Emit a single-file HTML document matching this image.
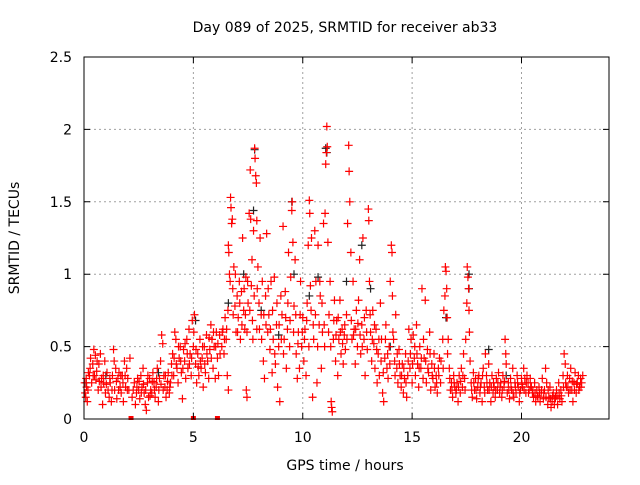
<!DOCTYPE html>
<html><head><meta charset="utf-8"><style>
body{margin:0;background:#fff;}
svg text{font-family:"DejaVu Sans","Liberation Sans",sans-serif;font-size:14px;fill:#000;}
</style></head><body>
<svg id="chart" width="640" height="480" viewBox="0 0 640 480" xmlns="http://www.w3.org/2000/svg">
<rect width="640" height="480" fill="#fff"/>
<g id="grid"></g>
<g id="marks"></g>
<g id="axes"></g>
<text x="345" y="32" text-anchor="middle">Day 089 of 2025, SRMTID for receiver ab33</text>
<text x="345" y="470" text-anchor="middle">GPS time / hours</text>
<text x="19" y="238" text-anchor="middle" transform="rotate(-90 19 238)">SRMTID / TECUs</text>
</svg>
<script>
const xTicks=[0,5,10,15,20];
const yTicks=[0,0.5,1,1.5,2,2.5];
const yTickLabels=["0","0.5","1","1.5","2","2.5"];
const blackPoints=[[0.1,0.25],[1.0,0.3],[3.4,0.32],[5.1,0.68],[6.6,0.8],[7.3,1.0],[7.75,1.44],[7.8,1.86],[9.5,1.5],[9.6,1.0],[10.3,0.85],[10.7,0.98],[11.05,1.87],[11.1,1.84],[12.0,0.95],[12.7,1.2],[13.1,0.9],[14.0,0.5],[16.55,0.7],[17.6,1.0],[17.6,0.9],[18.5,0.48],[19.3,0.3],[8.1,0.75],[8.9,0.58]];
const redPoints=[
[0.05,0.18],[0.08,0.15],[0.1,0.28],[0.12,0.22],[0.15,0.12],[0.2,0.32],[0.25,0.3],[0.3,0.42],[0.35,0.25],[0.4,0.38],[0.45,0.48],[0.48,0.3],
[0.52,0.44],[0.55,0.27],[0.6,0.4],[0.65,0.2],[0.7,0.26],[0.75,0.45],[0.8,0.28],[0.85,0.1],[0.9,0.25],[0.95,0.4],[0.98,0.18],
[1.05,0.32],[1.1,0.2],[1.15,0.15],[1.2,0.25],[1.25,0.12],[1.3,0.3],[1.35,0.48],[1.4,0.2],[1.45,0.35],[1.5,0.14],
[1.55,0.28],[1.6,0.32],[1.65,0.22],[1.7,0.18],[1.75,0.3],[1.8,0.12],[1.85,0.4],[1.9,0.22],[1.95,0.35],[2.0,0.28],
[2.05,0.2],[2.1,0.42],[2.2,0.15],[2.3,0.25],[2.35,0.1],[2.4,0.18],[2.45,0.28],[2.5,0.2],
[2.55,0.14],[2.6,0.3],[2.65,0.22],[2.7,0.35],[2.75,0.18],[2.8,0.1],[2.85,0.06],[2.9,0.25],[2.95,0.15],[3.0,0.28],
[3.05,0.2],[3.1,0.18],[3.15,0.32],[3.2,0.25],[3.25,0.15],[3.3,0.22],[3.35,0.35],[3.4,0.12],[3.45,0.28],[3.5,0.4],
[3.55,0.58],[3.6,0.52],[3.65,0.3],[3.7,0.22],[3.75,0.15],[3.8,0.2],[3.85,0.32],[3.9,0.18],[3.95,0.25],[4.0,0.38],
[4.05,0.45],[4.1,0.3],[4.15,0.6],[4.2,0.55],[4.25,0.35],[4.3,0.25],[4.35,0.42],[4.4,0.5],[4.45,0.32],[4.5,0.14],
[4.55,0.48],[4.6,0.4],[4.65,0.28],[4.7,0.55],[4.75,0.35],[4.8,0.62],[4.85,0.45],[4.9,0.3],[4.95,0.68],[5.0,0.5],
[5.05,0.72],[5.1,0.38],[5.15,0.25],[5.2,0.45],[5.25,0.3],[5.3,0.55],[5.35,0.35],[5.4,0.42],[5.45,0.22],[5.5,0.5],
[5.55,0.32],[5.6,0.58],[5.65,0.4],[5.7,0.28],[5.75,0.48],[5.8,0.65],[5.85,0.55],[5.9,0.35],[5.95,0.5],[6.0,0.28],
[6.05,0.6],[6.1,0.42],[6.15,0.3],[6.2,0.58],[6.3,0.5],[6.35,0.62],[6.4,0.45],[6.45,0.7],[6.5,0.55],
[6.55,0.3],[6.6,0.2],[6.62,1.15],[6.65,1.0],[6.7,1.53],[6.72,1.46],[6.75,1.35],[6.8,0.9],[6.85,1.05],[6.9,0.78],[6.95,0.6],[7.0,0.85],[6.6,1.2],[6.78,1.38],
[7.05,0.7],[7.1,0.95],[7.15,0.55],[7.2,0.88],[7.25,1.25],[7.3,0.75],[7.35,0.62],[7.4,0.98],[7.45,0.6],[7.5,0.8],[7.45,0.15],[7.42,0.2],
[7.55,1.42],[7.6,1.72],[7.62,1.38],[7.65,0.92],[7.7,0.68],[7.75,1.3],[7.8,1.87],[7.82,1.8],[7.85,1.68],[7.88,1.63],[7.9,1.37],[7.95,1.05],[8.0,0.8],[7.72,0.55],[7.9,0.62],
[8.05,1.25],[8.1,0.72],[8.15,0.95],[8.2,0.4],[8.25,0.28],[8.3,0.85],[8.35,1.28],[8.4,0.6],[8.45,0.72],[8.5,0.48],
[8.55,0.95],[8.6,0.32],[8.65,0.55],[8.7,0.98],[8.75,0.38],[8.8,0.65],[8.85,0.22],[8.9,0.5],[8.95,0.12],[9.0,0.85],
[9.05,0.72],[9.1,1.33],[9.15,0.55],[9.2,0.88],[9.25,0.35],[9.3,0.62],[9.35,1.15],[9.4,0.5],[9.45,0.98],[9.5,1.44],[9.52,1.5],[9.55,1.22],
[9.6,0.78],[9.65,1.1],[9.7,0.45],[9.75,0.28],[9.8,0.6],[9.85,0.35],[9.9,0.95],[9.95,0.5],[10.0,0.7],
[10.05,0.4],[10.1,0.62],[10.15,0.3],[10.2,0.8],[10.25,1.2],[10.3,1.51],[10.32,1.42],[10.35,0.92],[10.4,1.25],[10.45,0.15],[10.5,0.55],
[10.55,1.3],[10.6,0.95],[10.65,0.25],[10.7,1.2],[10.75,0.65],[10.8,0.85],[10.85,0.35],[10.9,0.6],[10.95,1.35],[11.0,0.5],
[11.02,1.42],[11.05,1.76],[11.08,1.84],[11.1,2.02],[11.12,1.88],[11.15,1.22],[11.2,0.72],[11.25,0.95],[11.3,0.12],[11.32,0.08],[11.35,0.05],[11.4,0.55],[11.45,0.82],[11.5,0.4],
[11.55,0.68],[11.6,0.3],[11.65,0.55],[11.7,0.82],[11.75,0.45],[11.8,0.62],[11.85,0.38],[11.9,0.58],[11.95,0.48],[12.0,0.72],
[12.05,1.35],[12.1,1.89],[12.12,1.71],[12.15,1.5],[12.2,1.15],[12.25,0.55],[12.3,0.95],[12.35,0.62],[12.4,0.38],[12.45,0.75],[12.5,0.5],
[12.55,0.82],[12.6,1.1],[12.65,0.45],[12.7,0.65],[12.75,1.25],[12.8,0.55],[12.85,0.3],[12.9,0.75],[12.95,0.48],[13.0,1.45],[13.02,1.37],
[13.05,0.95],[13.1,0.6],[13.15,0.4],[13.2,0.75],[13.25,0.52],[13.3,0.35],[13.35,0.62],[13.4,0.25],[13.45,0.45],[13.5,0.3],
[13.55,0.8],[13.6,0.55],[13.65,0.18],[13.7,0.12],[13.75,0.42],[13.8,0.65],[13.85,0.35],[13.9,0.28],[13.95,0.5],[14.0,0.95],
[14.05,1.2],[14.08,1.15],[14.1,0.85],[14.15,0.55],[14.2,0.4],[14.25,0.72],[14.3,0.35],[14.35,0.25],[14.4,0.48],[14.45,0.3],[14.5,0.22],
[14.55,0.38],[14.6,0.18],[14.65,0.28],[14.7,0.45],[14.75,0.15],[14.8,0.3],[14.85,0.62],[14.9,0.35],[14.95,0.55],[15.0,0.25],
[15.05,0.58],[15.1,0.42],[15.15,0.3],[15.2,0.65],[15.25,0.38],[15.3,0.22],[15.35,0.5],[15.4,0.35],[15.45,0.9],[15.5,0.28],
[15.55,0.42],[15.6,0.82],[15.65,0.25],[15.7,0.48],[15.75,0.32],[15.8,0.6],[15.85,0.2],[15.9,0.38],[15.95,0.28],[16.0,0.45],
[16.05,0.22],[16.1,0.3],[16.15,0.18],[16.2,0.35],[16.25,0.42],[16.3,0.25],[16.4,0.55],[16.45,0.75],[16.5,0.85],
[16.52,1.05],[16.55,1.02],[16.58,0.9],[16.6,0.7],[16.65,0.55],[16.7,0.35],[16.75,0.2],[16.8,0.25],[16.85,0.15],[16.9,0.3],[16.95,0.22],[17.0,0.18],
[17.05,0.25],[17.1,0.12],[17.15,0.3],[17.2,0.18],[17.25,0.35],[17.3,0.22],[17.35,0.45],[17.4,0.28],[17.45,0.55],[17.5,0.8],
[17.52,1.05],[17.55,0.98],[17.58,0.9],[17.6,0.75],[17.62,0.6],[17.65,0.4],[17.7,0.25],[17.75,0.15],[17.8,0.32],[17.85,0.2],[17.9,0.28],[17.95,0.14],[18.0,0.22],
[18.05,0.3],[18.1,0.18],[18.15,0.25],[18.2,0.12],[18.25,0.35],[18.3,0.22],[18.35,0.45],[18.4,0.3],[18.45,0.2],[18.5,0.38],
[18.55,0.25],[18.6,0.12],[18.65,0.3],[18.7,0.18],[18.75,0.22],[18.8,0.15],[18.85,0.28],[18.9,0.2],[18.95,0.32],[19.0,0.18],
[19.05,0.25],[19.1,0.15],[19.15,0.3],[19.2,0.22],[19.25,0.55],[19.28,0.45],[19.3,0.38],[19.35,0.18],[19.4,0.25],[19.45,0.14],[19.5,0.28],
[19.55,0.2],[19.6,0.35],[19.65,0.15],[19.7,0.25],[19.75,0.18],[19.8,0.3],[19.85,0.22],[19.9,0.12],[19.95,0.2],[20.0,0.28],
[20.05,0.22],[20.1,0.35],[20.15,0.28],[20.2,0.18],[20.25,0.3],[20.3,0.25],[20.35,0.2],[20.4,0.28],[20.45,0.22],[20.5,0.18],
[20.55,0.15],[20.6,0.25],[20.65,0.12],[20.7,0.2],[20.75,0.15],[20.8,0.22],[20.85,0.12],[20.9,0.18],[20.95,0.28],[21.0,0.14],
[21.05,0.2],[21.1,0.35],[21.15,0.25],[21.2,0.1],[21.25,0.15],[21.3,0.22],[21.35,0.08],[21.4,0.12],[21.45,0.18],[21.5,0.1],
[21.55,0.15],[21.6,0.2],[21.65,0.1],[21.7,0.25],[21.75,0.14],[21.8,0.2],[21.85,0.12],[21.9,0.3],[21.95,0.45],[22.0,0.38],
[22.05,0.22],[22.1,0.3],[22.15,0.18],[22.2,0.28],[22.25,0.35],[22.3,0.2],[22.35,0.12],[22.4,0.25],[22.45,0.32],[22.5,0.18],
[22.55,0.25],[22.6,0.3],[22.65,0.22],[22.7,0.28],[22.75,0.25],[22.8,0.3]
];
const redPointsExtra=[
[0.03,0.25],[0.18,0.2],[0.28,0.35],[0.42,0.3],[0.58,0.33],[0.68,0.38],[0.78,0.22],[0.88,0.3],[1.02,0.24],[1.18,0.28],[1.28,0.2],[1.38,0.4],[1.48,0.26],[1.58,0.2],[1.68,0.3],[1.78,0.25],[1.88,0.3],[1.98,0.2],
[2.25,0.2],[2.42,0.22],[2.52,0.26],[2.62,0.18],[2.72,0.24],[2.82,0.2],[2.92,0.3],[3.02,0.16],[3.12,0.26],[3.22,0.2],[3.32,0.28],[3.42,0.2],[3.52,0.24],[3.62,0.2],[3.72,0.3],[3.82,0.26],[3.92,0.22],
[4.02,0.3],[4.12,0.42],[4.22,0.38],[4.32,0.5],[4.42,0.4],[4.52,0.35],[4.62,0.52],[4.72,0.45],[4.82,0.38],[4.92,0.42],[5.02,0.6],[5.12,0.48],[5.22,0.36],[5.32,0.4],[5.42,0.5],[5.52,0.38],[5.62,0.45],[5.72,0.56],[5.82,0.42],[5.92,0.6],[6.02,0.5],[6.12,0.52],[6.22,0.45],[6.32,0.6],[6.42,0.55],[6.52,0.62],
[6.58,0.75],[6.68,0.95],[6.82,0.72],[6.92,1.0],[7.02,0.6],[7.12,0.8],[7.22,0.65],[7.32,0.9],[7.38,0.72],[7.48,0.95],[7.58,0.75],[7.68,1.1],[7.78,0.85],[7.92,0.9],[8.02,0.62],[8.12,0.55],[8.22,0.72],[8.32,0.65],[8.42,0.9],[8.52,0.62],[8.62,0.75],[8.72,0.45],[8.82,0.8],[8.92,0.65],[9.02,0.55],[9.12,0.45],[9.22,0.7],[9.32,0.8],[9.42,0.68],[9.58,0.6],[9.68,0.72],[9.78,0.52],[9.88,0.72],[9.98,0.6],
[10.08,0.55],[10.18,0.68],[10.28,0.5],[10.38,0.75],[10.48,0.65],[10.58,0.72],[10.68,0.5],[10.78,0.95],[10.88,0.8],[10.98,0.65],[11.18,0.6],[11.28,0.5],[11.42,0.68],[11.52,0.58],[11.62,0.7],[11.72,0.6],[11.82,0.52],[11.92,0.65],[12.02,0.55],[12.22,0.68],[12.32,0.58],[12.42,0.62],[12.52,0.66],[12.62,0.58],[12.72,0.5],[12.82,0.7],[12.92,0.6],
[13.08,0.72],[13.18,0.55],[13.28,0.65],[13.38,0.48],[13.48,0.55],[13.58,0.4],[13.68,0.32],[13.78,0.55],[13.88,0.45],[13.98,0.38],[14.12,0.6],[14.22,0.3],[14.32,0.45],[14.42,0.38],[14.52,0.3],[14.62,0.35],[14.72,0.25],[14.82,0.4],[14.92,0.45],[15.02,0.38],[15.12,0.5],[15.22,0.45],[15.32,0.35],[15.42,0.42],[15.52,0.55],[15.62,0.4],[15.72,0.35],[15.82,0.45],[15.92,0.3],[16.02,0.35],[16.12,0.25],[16.22,0.3],[16.32,0.4],[16.42,0.35],[16.62,0.45],[16.72,0.28],[16.82,0.2],[16.92,0.25],
[17.02,0.2],[17.12,0.22],[17.22,0.26],[17.32,0.3],[17.42,0.2],[17.72,0.2],[17.82,0.25],[17.92,0.2],[18.02,0.28],[18.12,0.22],[18.22,0.3],[18.32,0.18],[18.42,0.25],[18.52,0.2],[18.62,0.22],[18.72,0.25],[18.82,0.2],[18.92,0.25],[19.02,0.22],[19.12,0.2],[19.22,0.26],[19.42,0.2],[19.52,0.22],[19.62,0.18],[19.72,0.22],[19.82,0.25],[19.92,0.18],
[20.02,0.24],[20.12,0.2],[20.22,0.25],[20.32,0.18],[20.42,0.22],[20.52,0.2],[20.62,0.18],[20.72,0.16],[20.82,0.18],[20.92,0.2],[21.02,0.18],[21.12,0.15],[21.22,0.2],[21.32,0.14],[21.42,0.16],[21.52,0.14],[21.62,0.16],[21.72,0.18],[21.82,0.16],[21.92,0.22],[22.02,0.25],[22.12,0.22],[22.22,0.2],[22.32,0.26],[22.42,0.2],[22.52,0.24],[22.62,0.2],[22.72,0.22]
];
const zeroTimes=[2.15,5.0,6.1];

const L=84,R=609,T=57,B=419,XMAX=24,YMAX=2.5;
function xs(t){return L+(R-L)*t/XMAX;}
function ys(v){return B-(B-T)*v/YMAX;}
const NS="http://www.w3.org/2000/svg";
function mk(tag,attrs,parent){const e=document.createElementNS(NS,tag);for(const k in attrs)e.setAttribute(k,attrs[k]);parent.appendChild(e);return e;}
const grid=document.getElementById('grid'),marks=document.getElementById('marks'),axes=document.getElementById('axes');

xTicks.forEach(t=>{
  const x=xs(t);
  if(t>0){const g=mk('line',{x1:x,y1:T,x2:x,y2:B,stroke:'#a0a0a0','stroke-dasharray':'2,3','stroke-width':1},grid);
  
  }
  const tk=mk('path',{d:`M${x},${B}v-6M${x},${T}v6`,stroke:'#000','stroke-width':1},axes);
  
  
  const lb=mk('text',{x:x,y:B+23,'text-anchor':'middle'},axes);lb.textContent=String(t);
  
  
});
yTicks.forEach((v,i)=>{
  const y=ys(v);
  if(v>0&&v<YMAX){const g=mk('line',{x1:L,y1:y,x2:R,y2:y,stroke:'#a0a0a0','stroke-dasharray':'2,3','stroke-width':1},grid);
  
  }
  const tk=mk('path',{d:`M${L},${y}h6M${R},${y}h-6`,stroke:'#000','stroke-width':1},axes);
  
  
  const lb=mk('text',{x:L-12,y:y+5,'text-anchor':'end'},axes);lb.textContent=yTickLabels[i];
  
  
});
const frame=mk('rect',{x:L,y:T,width:R-L,height:B-T,fill:'none',stroke:'#000','stroke-width':1},axes);



function plus(p,color,name){
  const x=xs(p[0]),y=ys(p[1]);
  const e=mk('path',{d:`M${x-4},${y}h8M${x},${y-4}v8`,stroke:color,'stroke-width':1.2},marks);
  
  
}
blackPoints.forEach(p=>plus(p,'#222','black-point'));
redPoints.forEach(p=>plus(p,'#ff0000','red-point'));
redPointsExtra.forEach(p=>plus(p,'#ff0000','red-point'));
zeroTimes.forEach(t=>{
  const e=mk('rect',{x:xs(t)-2.5,y:ys(0)-3,width:5,height:4,fill:'#ff0000'},marks);
  
  
});
</script>
</body></html>
